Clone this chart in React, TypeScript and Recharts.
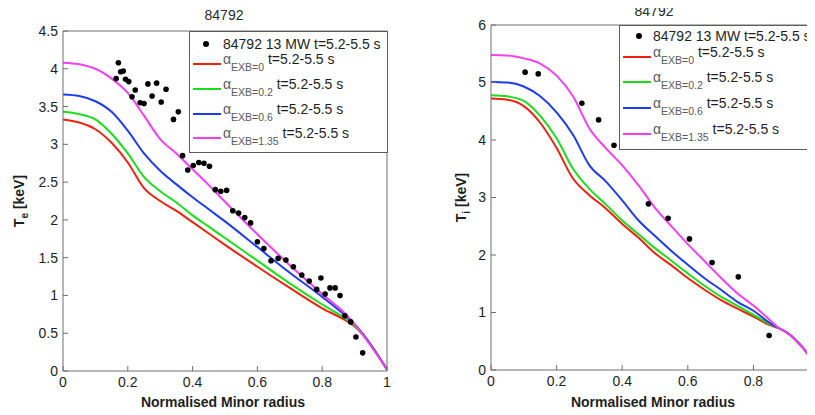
// Two-panel profile comparison: Te and Ti vs normalised minor radius, shot 84792
import React from 'react'
import { ComposedChart, Line, Scatter, XAxis, YAxis } from 'recharts'

// ---- data ----
const radiusTicks = [0, 0.2, 0.4, 0.6, 0.8, 1]
const radiusTicksRight = [0, 0.2, 0.4, 0.6, 0.8] // the "1" label falls past the picture edge
const teTicks = [0, 0.5, 1, 1.5, 2, 2.5, 3, 3.5, 4, 4.5]
const tiTicks = [0, 1, 2, 3, 4, 5, 6]

const shotTitle = '84792'
const measLabel = '84792 13 MW t=5.2-5.5 s'
const timeLabel = 't=5.2-5.5 s'
const exbLabels = ['EXB=0', 'EXB=0.2', 'EXB=0.6', 'EXB=1.35']

// simulated Te profiles
const rLeft = [0, 0.05, 0.1, 0.15, 0.2, 0.25, 0.3, 0.35, 0.4, 0.45, 0.5, 0.6, 0.7, 0.8, 0.88, 0.9, 1]
const teExb0 = [3.33, 3.29, 3.2, 3.02, 2.76, 2.42, 2.25, 2.12, 1.97, 1.82, 1.67, 1.38, 1.1, 0.83, 0.65, 0.59, 0.02]
const teExb02 = [3.43, 3.4, 3.33, 3.14, 2.88, 2.57, 2.38, 2.23, 2.06, 1.91, 1.76, 1.46, 1.16, 0.88, 0.67, 0.6, 0.02]
const teExb06 = [3.66, 3.64, 3.57, 3.43, 3.18, 2.88, 2.65, 2.47, 2.3, 2.14, 1.98, 1.64, 1.3, 0.98, 0.7, 0.62, 0.02]
const teExb135 = [4.08, 4.06, 4.0, 3.87, 3.68, 3.38, 3.07, 2.88, 2.67, 2.46, 2.24, 1.81, 1.4, 1.02, 0.72, 0.62, 0.02]

// measured Te
const teMeasR = [0.164, 0.171, 0.178, 0.186, 0.193, 0.203, 0.213, 0.223, 0.238, 0.25, 0.262, 0.275, 0.289, 0.303, 0.318, 0.341, 0.356, 0.369, 0.385, 0.402, 0.419, 0.435, 0.452, 0.47, 0.487, 0.505, 0.524, 0.542, 0.561, 0.579, 0.6, 0.62, 0.642, 0.664, 0.688, 0.711, 0.737, 0.76, 0.783, 0.796, 0.809, 0.824, 0.84, 0.855, 0.87, 0.888, 0.904, 0.925]
const teMeas = [3.87, 4.08, 3.96, 3.97, 3.86, 3.83, 3.63, 3.72, 3.55, 3.54, 3.8, 3.64, 3.81, 3.56, 3.73, 3.33, 3.43, 2.85, 2.66, 2.72, 2.76, 2.75, 2.71, 2.4, 2.38, 2.39, 2.12, 2.09, 2.03, 1.96, 1.71, 1.62, 1.46, 1.49, 1.47, 1.38, 1.27, 1.19, 1.08, 1.23, 1.02, 1.1, 1.1, 1.0, 0.73, 0.65, 0.45, 0.24]

// simulated Ti profiles
const rRight = [0, 0.05, 0.1, 0.15, 0.2, 0.25, 0.3, 0.35, 0.4, 0.45, 0.5, 0.55, 0.6, 0.65, 0.7, 0.75, 0.8, 0.85, 0.88, 0.9, 1]
const tiExb0 = [4.72, 4.7, 4.59, 4.3, 3.86, 3.33, 3.04, 2.81, 2.54, 2.3, 2.03, 1.82, 1.6, 1.4, 1.22, 1.07, 0.93, 0.78, 0.72, 0.66, 0.02]
const tiExb02 = [4.78, 4.76, 4.68, 4.42, 4.03, 3.5, 3.15, 2.88, 2.6, 2.36, 2.12, 1.9, 1.68, 1.47, 1.28, 1.12, 0.96, 0.8, 0.72, 0.66, 0.02]
const tiExb06 = [5.01, 5.0, 4.93, 4.76, 4.48, 4.09, 3.56, 3.28, 2.95, 2.6, 2.33, 2.07, 1.83, 1.6, 1.4, 1.19, 1.03, 0.82, 0.72, 0.66, 0.02]
const tiExb135 = [5.48, 5.47, 5.42, 5.33, 5.12, 4.76, 4.2, 3.86, 3.56, 3.21, 2.82, 2.5, 2.19, 1.9, 1.61, 1.34, 1.12, 0.87, 0.72, 0.66, 0.02]

// measured Ti
const tiMeasR = [0.104, 0.144, 0.277, 0.328, 0.375, 0.48, 0.54, 0.605, 0.674, 0.754, 0.848]
const tiMeas = [5.18, 5.15, 4.64, 4.35, 3.91, 2.89, 2.64, 2.28, 1.87, 1.62, 0.6]

// ---- styles ----
const lineColors = ['#f2210f', '#19df19', '#1d3bef', '#f43ff4']
const axisGrey = '#6e6e6e'
const textDark = '#1e1e1e'
const legendGrey = '#5a5a5a'

const MeasDot = (p: any) => <circle cx={p.cx} cy={p.cy} r={2.8} fill="#000" />

interface LegendProps {
  left: number
  top: number
  width: number
  height: number
  dotX: number
  dotY: number
  rowY: number[]
}

function LegendBox({ left, top, width, height, dotX, dotY, rowY }: LegendProps) {
  return (
    <div
      style={{
        position: 'absolute', left, top, width, height, boxSizing: 'border-box',
        border: '1px solid #5c5c5c', background: '#fff', fontSize: 14, color: textDark,
      }}
    >
      <div style={{ position: 'absolute', left: dotX - 3.5, top: dotY - 3.5, width: 6, height: 6, borderRadius: 3, background: '#000' }} />
      <div style={{ position: 'absolute', left: 33, top: dotY - 7, lineHeight: '14px', whiteSpace: 'nowrap' }}>{measLabel}</div>
      {exbLabels.map((lab, i) => (
        <React.Fragment key={lab}>
          <div style={{ position: 'absolute', left: 3, top: rowY[i] - 1.5, width: 28, height: 2, background: lineColors[i] }} />
          <div style={{ position: 'absolute', left: 33, top: rowY[i] - 12, lineHeight: '14px', whiteSpace: 'nowrap' }}>
            <span style={{ color: legendGrey }}>α</span>
            <span style={{ color: legendGrey, fontSize: 10.5, position: 'relative', top: 7 }}>{lab}</span>
            <span> {timeLabel}</span>
          </div>
        </React.Fragment>
      ))}
    </div>
  )
}

interface PanelProps {
  width: number
  margin: { top: number; right: number; left: number; bottom: number }
  yAxisWidth: number
  xAxisHeight: number
  yMax: number
  yTicks: number[]
  xTicks: number[]
  grid: number[]
  curves: number[][]
  measR: number[]
  meas: number[]
  sub: string
  yLabelX: number
  titleY: number
}

function Panel({ width, margin, yAxisWidth, xAxisHeight, yMax, yTicks, xTicks, grid, curves, measR, meas, sub, yLabelX, titleY }: PanelProps) {
  const plotLeft = margin.left + yAxisWidth
  const plotRight = width - margin.right - 1
  const plotTop = margin.top + 1
  const plotBottom = 415 - margin.bottom - xAxisHeight
  const cx = (plotLeft + plotRight) / 2
  const cy = (plotTop + plotBottom) / 2
  const dots = measR.map((x, i) => ({ x, y: meas[i] }))

  return (
    <ComposedChart width={width} height={415} margin={margin}>
      <XAxis
        xAxisId="b" dataKey="x" type="number" domain={[0, 1]} ticks={xTicks} allowDataOverflow
        height={xAxisHeight} stroke={axisGrey} tick={{ fontSize: 14, fill: textDark }}
        tickSize={-5} tickMargin={11}
        label={() => (
          <text x={cx - 2} y={407} textAnchor="middle" fontSize={14} fontWeight="bold" fill={textDark}>
            Normalised Minor radius
          </text>
        )}
      />
      <XAxis
        xAxisId="t" orientation="top" type="number" domain={[0, 1]} ticks={radiusTicks} allowDataOverflow
        height={1} stroke={axisGrey} tick={false} tickSize={-5}
        label={() => (
          <text x={cx - 1} y={titleY} textAnchor="middle" fontSize={14} fill="#2a2a2a">{shotTitle}</text>
        )}
      />
      <YAxis
        yAxisId="l" dataKey="y" type="number" domain={[0, yMax]} ticks={yTicks} allowDataOverflow
        width={yAxisWidth} stroke={axisGrey} tick={{ fontSize: 14, fill: textDark }}
        tickSize={-5} tickMargin={10}
        label={() => (
          <text
            x={yLabelX} y={cy} transform={`rotate(-90, ${yLabelX}, ${cy})`}
            textAnchor="middle" fontSize={14} fontWeight="bold" fill={textDark}
          >
            T<tspan dy={4} fontSize={10}>{sub}</tspan><tspan dy={-4}> [keV]</tspan>
          </text>
        )}
      />
      <YAxis
        yAxisId="r" orientation="right" type="number" domain={[0, yMax]} ticks={yTicks} allowDataOverflow
        width={1} stroke={axisGrey} tick={false} tickSize={-5}
      />
      <Scatter xAxisId="b" yAxisId="l" data={dots} dataKey="y" shape={MeasDot} isAnimationActive={false} />
      {curves.map((ys, i) => (
        <Line
          key={exbLabels[i]}
          xAxisId="b" yAxisId="l"
          data={grid.map((x, j) => ({ x, y: ys[j] }))}
          dataKey="y" type="monotone" stroke={lineColors[i]} strokeWidth={2}
          dot={false} activeDot={false} isAnimationActive={false}
        />
      ))}
    </ComposedChart>
  )
}

export default function App() {
  return (
    <div
      style={{
        position: 'relative', width: 815, height: 415, margin: -8, overflow: 'hidden',
        background: '#fff', fontFamily: "'Liberation Sans', Arial, Helvetica, sans-serif",
      }}
    >
      <div style={{ position: 'absolute', left: 0, top: 0 }}>
        <Panel
          width={400} margin={{ top: 30, right: 12, left: 0, bottom: 0 }}
          yAxisWidth={63} xAxisHeight={44} yMax={4.5} yTicks={teTicks} xTicks={radiusTicks}
          grid={rLeft} curves={[teExb0, teExb02, teExb06, teExb135]}
          measR={teMeasR} meas={teMeas} sub="e" yLabelX={24} titleY={20}
        />
      </div>
      <LegendBox left={189} top={31} width={199} height={122} dotX={16} dotY={12} rowY={[32, 57, 82, 106]} />
      <div style={{ position: 'absolute', left: 400, top: 0 }}>
        <Panel
          width={430} margin={{ top: 24, right: 10, left: 0, bottom: 0 }}
          yAxisWidth={91} xAxisHeight={45} yMax={6} yTicks={tiTicks} xTicks={radiusTicksRight}
          grid={rRight} curves={[tiExb0, tiExb02, tiExb06, tiExb135]}
          measR={tiMeasR} meas={tiMeas} sub="i" yLabelX={66} titleY={16}
        />
      </div>
      <LegendBox left={619} top={25} width={220} height={125} dotX={19} dotY={10} rowY={[31, 56, 82, 108]} />
    </div>
  )
}
